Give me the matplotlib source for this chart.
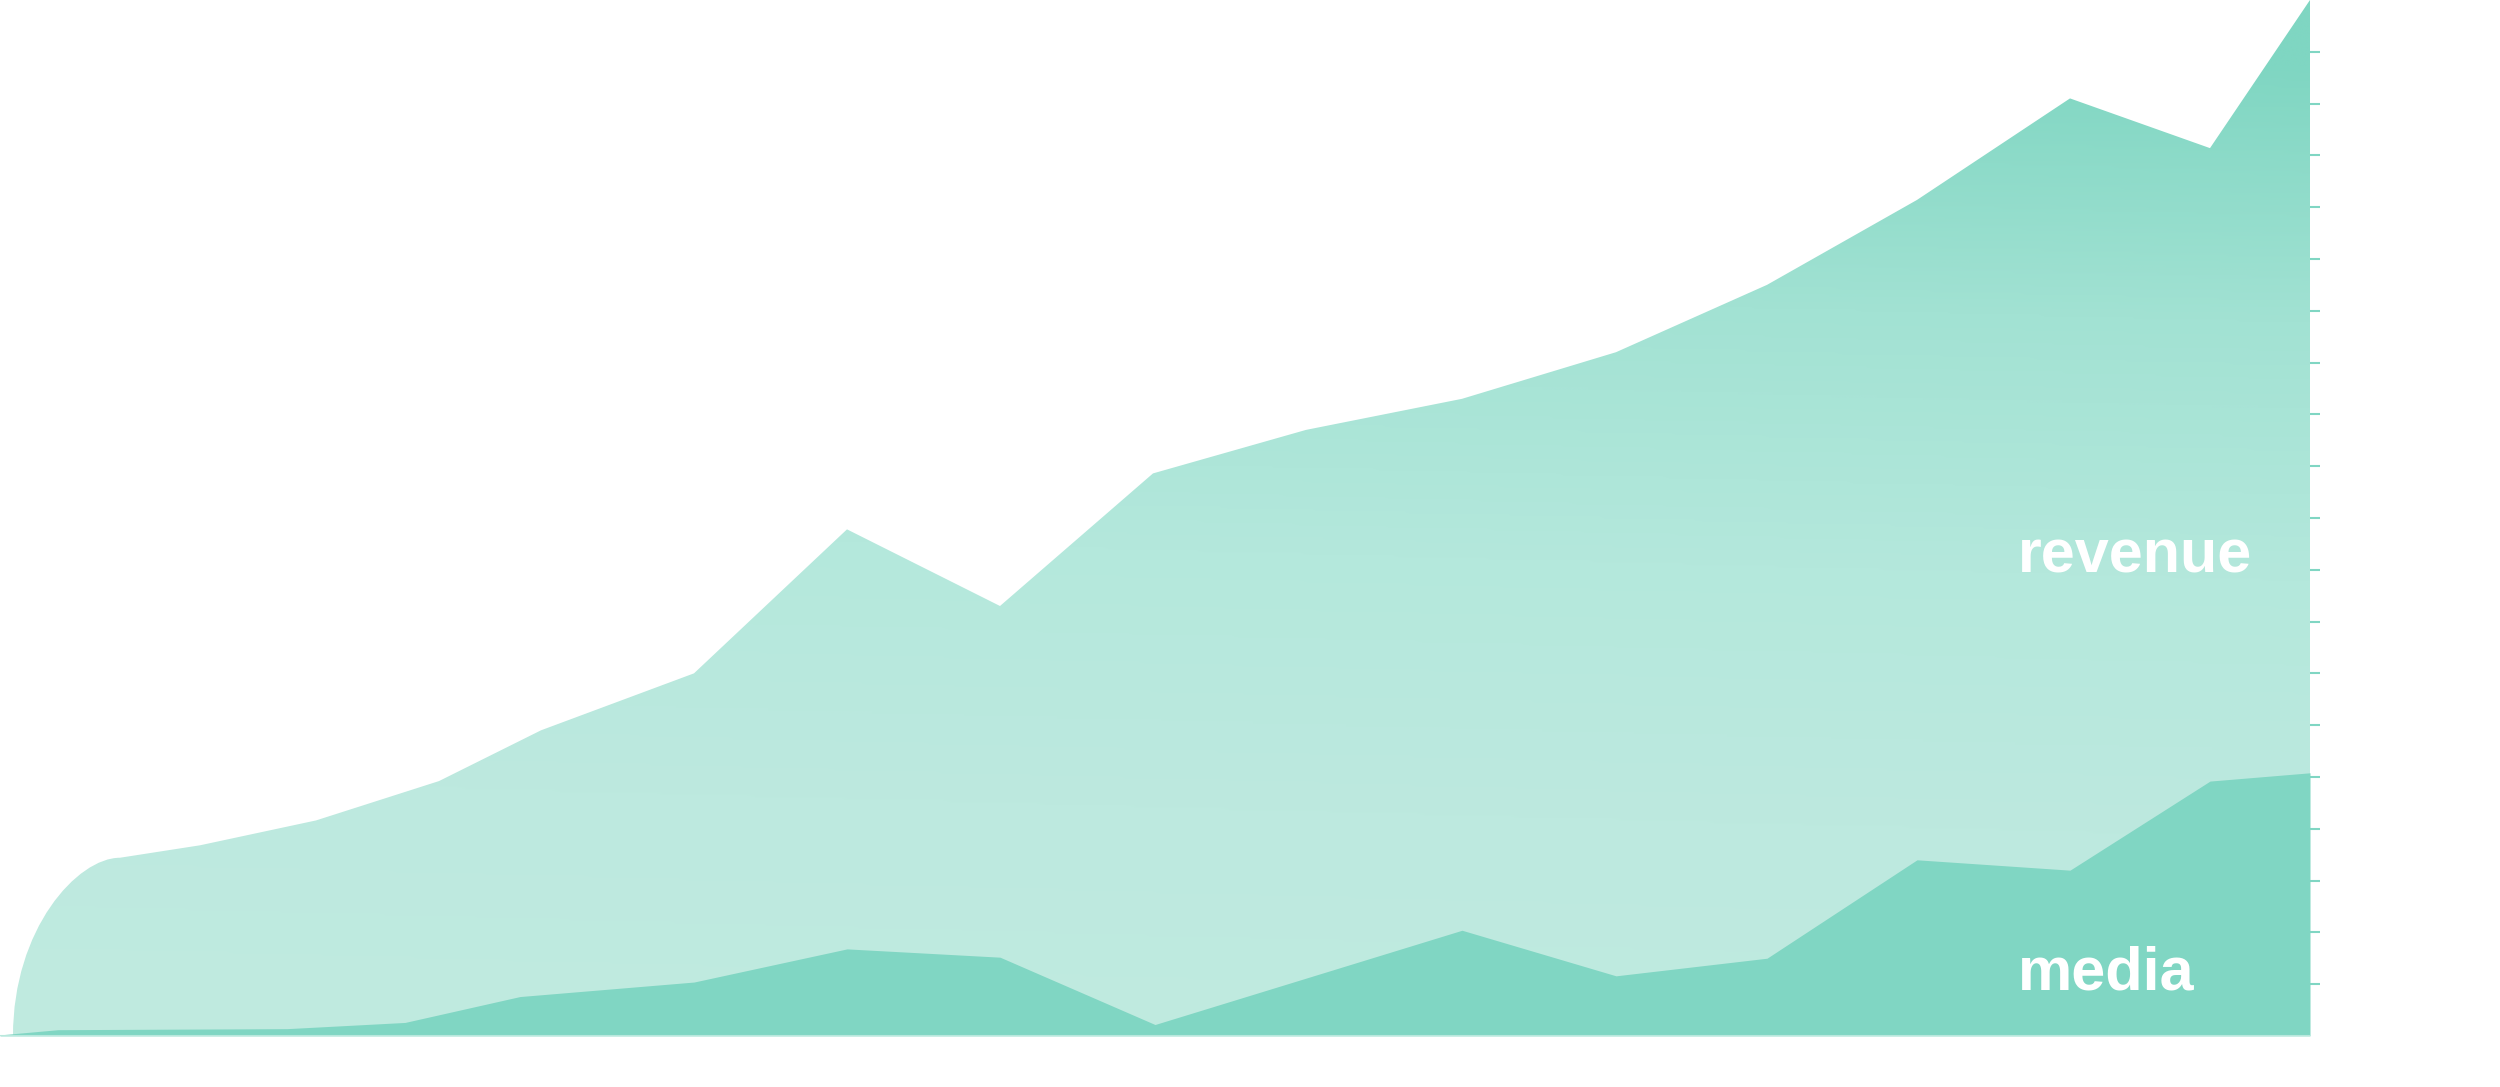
import numpy as np
import matplotlib.pyplot as plt
from matplotlib.path import Path
from matplotlib.patches import PathPatch
from matplotlib.colors import LinearSegmentedColormap

# time axis positions and the two stacked series (top of revenue = total)
x_rev = [13, 120, 200, 316, 439, 541, 694, 847, 1000, 1153, 1306, 1462, 1616,
         1767, 1917, 2070, 2210, 2310]
revenue_total = [0.0, 17.2, 18.4, 20.8, 24.6, 29.5, 35.0, 48.9, 41.5, 54.3,
                 58.5, 61.5, 66.0, 72.5, 80.7, 90.5, 85.7, 100.0]

x_media = [0, 58, 287, 405, 520, 694, 847, 1000, 1155, 1462, 1616, 1767, 1917,
           2070, 2210, 2310]
media = [0.1, 0.6, 0.7, 1.3, 3.8, 5.2, 8.4, 7.6, 1.1, 10.2, 5.8, 7.5, 17.0,
         16.0, 24.6, 25.4]

labels = ["revenue", "media"]
label_y = [46.2, 6.0]
tick_vals = list(range(5, 100, 5))

teal = "#80d6c3"
grad_colors = ["#c0ebe0", "#bde9df", "#b4e8dc", "#a2e2d3", "#7fd6c2"]

fig = plt.figure(figsize=(25, 10.87), dpi=100)
ax = fig.add_axes([0.0, 0.047, 0.924, 0.953])
ax.set_xlim(0, 2310)
ax.set_ylim(0, 100)

# revenue polygon, first segment curves up from zero
x0, y0 = x_rev[0], revenue_total[0]
x1, y1 = x_rev[1], revenue_total[1]
verts = [(x0, y0), (x0, y1 * 0.6), (x0 + (x1 - x0) * 0.6, y1), (x1, y1)]
codes = [Path.MOVETO, Path.CURVE4, Path.CURVE4, Path.CURVE4]
for xv, yv in zip(x_rev[2:], revenue_total[2:]):
    verts.append((xv, yv))
    codes.append(Path.LINETO)
verts += [(x_rev[-1], 0), (x0, 0)]
codes += [Path.LINETO, Path.CLOSEPOLY]
poly = PathPatch(Path(verts, codes), facecolor="none", edgecolor="none")
ax.add_patch(poly)

gx, gy = np.meshgrid(np.linspace(0, 1, 200), np.linspace(0, 1, 400))
grad = np.clip(gy + 0.06 * gx, 0, 1)
cmap = LinearSegmentedColormap.from_list("rev", grad_colors)
im = ax.imshow(grad, extent=[0, 2310, 0, 100], origin="lower", aspect="auto",
               cmap=cmap, vmin=0, vmax=1, zorder=1, interpolation="bilinear")
im.set_clip_path(poly)

ax.fill_between(x_media, 0, media, color=teal, linewidth=0, zorder=2)
ax.plot([0, 2310], [0, 0], color="#b9e8dd", linewidth=1.5, zorder=2.5)

for lab, ly in zip(labels, label_y):
    ax.text(2018, ly, lab, color="white", fontsize=44, fontweight="bold",
            family="Liberation Sans", ha="left", va="center", zorder=3)

for s in ax.spines.values():
    s.set_visible(False)
ax.set_xticks([])
ax.yaxis.tick_right()
ax.set_yticks(tick_vals)
ax.set_yticklabels([])
ax.tick_params(axis="y", length=7, width=1.5, color=teal, direction="out")
ax.patch.set_alpha(0)

fig.savefig("out.png", dpi=100)
